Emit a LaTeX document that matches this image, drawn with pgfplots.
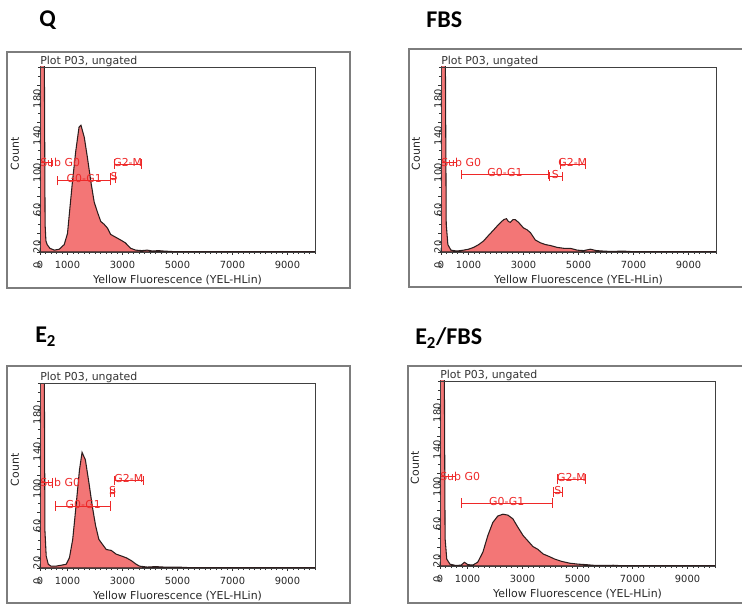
\documentclass[border=0pt]{standalone}
\usepackage{fontspec}
\setmainfont{DejaVu Sans}
\newfontfamily\titlefont{Carlito}
\usepackage{pgfplots}
\usepackage{pgfplotstable}
\pgfplotsset{compat=1.18}
\definecolor{histfill}{RGB}{243,118,118}
\definecolor{histline}{RGB}{45,30,30}
\definecolor{gatecol}{RGB}{238,40,40}
\definecolor{framegray}{RGB}{125,125,125}
\newcommand\lbl{\fontsize{8.2}{9}\selectfont}
\newcommand\tkl{\fontsize{7.4}{8}\selectfont}

\pgfplotstableread{
x y
0 260
150 260
185 30
215 12
260 8
360 4
520 2
700 3
880 8
1000 20
1060 39
1180 76
1300 109
1420 135
1490 137
1610 124
1730 101
1850 76
1970 54
2090 43
2210 33
2330 30
2450 26
2570 19
2750 16
2930 13
3100 10
3300 4
3480 2
3700 1.5
3900 2
4100 1
4300 1.5
4500 1
4800 0.5
5500 0.3
7000 0.3
10000 0.3
}\dataQ

\pgfplotstableread{
x y
0 260
150 260
190 30
250 8
360 2
580 1
820 2
1000 3
1190 5
1370 8
1550 12
1730 18
1920 24
2100 30
2280 35
2380 36
2450 33
2520 32
2620 35
2700 35
2820 32
3000 26
3130 24
3250 21
3430 13
3610 10
3800 8
3980 7
4220 5
4460 4
4700 4
4950 2
5190 1.5
5430 3
5650 1.5
5900 1
6200 0.5
6600 1
7000 0.3
10000 0.3
}\dataFBS

\pgfplotstableread{
x y
0 260
150 260
180 40
225 13
300 4
400 2
580 2
770 3
950 4
1070 11
1190 31
1310 67
1435 106
1530 125
1650 117
1780 92
1900 67
2020 46
2140 31
2260 26
2410 20
2590 19
2770 15
2960 13
3140 11
3320 8
3500 4
3620 2
3900 1
4200 1.5
4500 1
5000 1
5500 0.3
10000 0.3
}\dataE

\pgfplotstableread{
x y
0 260
150 260
185 30
245 7.5
360 2
580 0.5
770 1
890 4
1010 1.5
1190 1
1370 4
1560 15
1740 33
1920 47
2100 54
2290 56
2470 55
2650 51
2830 42
3020 33
3200 27
3380 21
3560 18
3750 13
3990 10
4170 7.5
4420 5
4720 3
5020 2
5300 1.5
5600 0.7
6000 0.5
6300 0.8
6600 0.3
10000 0.3
}\dataEF

% gate: x1, x2, y, label, labelx
\newcommand\gate[5]{%
  \draw[gatecol, line width=0.7pt] (axis cs:#1,#3) -- (axis cs:#2,#3);
  \draw[gatecol, line width=0.7pt] (axis cs:#1,#3-5) -- (axis cs:#1,#3+5);
  \draw[gatecol, line width=0.7pt] (axis cs:#2,#3-5) -- (axis cs:#2,#3+5);
  \node[gatecol, font=\lbl, inner sep=0pt] at (axis cs:#5,#3+2) {#4};
}
\newcommand\subgate[2]{%
  \draw[gatecol, line width=0.7pt] (axis cs:0,#2) -- (axis cs:#1,#2);
  \draw[gatecol, line width=0.7pt] (axis cs:#1,#2-5) -- (axis cs:#1,#2+5);
  \node[gatecol, font=\lbl, inner sep=0pt, anchor=west] at (axis cs:0,#2) {Sub G0};
}

\pgfplotsset{
  flow/.style={
    scale only axis, width=206.25pt, height=138.75pt, anchor=north west,
    xmin=0, xmax=10000, ymin=0, ymax=200,
    axis on top,
    axis line style={black!75, line width=0.7pt},
    xtick={0,1000,3000,5000,7000,9000},
    ytick={0,20,60,100,140,180},
    minor xtick={0,200,...,10000},
    minor ytick={0,10,...,200},
    tick align=outside, major tick length=2.2pt, minor tick length=1.6pt,
    tick style={black!80, line width=0.45pt},
    xtick pos=bottom, ytick pos=left,
    scaled x ticks=false,
    /pgf/number format/1000 sep={},
    /pgf/number format/assume math mode=true,
    xticklabel style={font=\tkl, text=black!85, anchor=center, yshift=-7.5pt},
    yticklabel style={font=\tkl, text=black!85, rotate=90, anchor=center, xshift=-10pt},
    xlabel={Yellow Fluorescence (YEL-HLin)},
    ylabel={Count},
    xlabel style={font=\lbl, text=black!85, at={(axis description cs:0.5,-0.151)}, anchor=center},
    ylabel style={font=\lbl, text=black!85, at={(axis description cs:-0.091,0.53)}, anchor=center},
    clip=true,
  },
  hist/.style={fill=histfill, draw=histline, line width=0.8pt},
}

\begin{document}
\begin{tikzpicture}
\useasboundingbox (0,0) rectangle (556.5pt,-453.75pt);

\begin{scope}[x=0.75pt, y=-0.75pt]
  \draw[framegray, line width=0.8pt] (7,52) rectangle (350,288);
  \draw[framegray, line width=0.8pt] (742,49) -- (409,49) -- (409,287) -- (742,287);
  \draw[framegray, line width=0.8pt] (7,366) rectangle (350,603);
  \draw[framegray, line width=0.8pt] (742,366) -- (408,366) -- (408,603) -- (742,603);
  \node[anchor=base west, inner sep=0pt, font=\titlefont\bfseries\fontsize{18}{20}\selectfont] at (39,27) {Q};
  \node[anchor=base west, inner sep=0pt, font=\titlefont\bfseries\fontsize{18}{20}\selectfont] at (426,28) {FBS};
  \node[anchor=base west, inner sep=0pt, font=\titlefont\bfseries\fontsize{18}{20}\selectfont] at (35,343) {E\textsubscript{2}};
  \node[anchor=base west, inner sep=0pt, font=\titlefont\bfseries\fontsize{18}{20}\selectfont] at (415,345) {E\textsubscript{2}/FBS};
\end{scope}

% Q
\begin{axis}[flow, at={(40*0.75pt,-67*0.75pt)}]
  \addplot[hist] table[x=x,y=y] {\dataQ} \closedcycle;
  \subgate{400}{97}
  \gate{650}{2570}{77}{G0-G1}{1610}
  \gate{2570}{2750}{80}{S}{2690}
  \gate{2700}{3680}{95}{G2-M}{3190}
\end{axis}
\node[anchor=base west, inner sep=0pt, font=\lbl, text=black!80] at (40*0.75pt,-65*0.75pt) {Plot P03, ungated};

% FBS
\begin{axis}[flow, at={(441*0.75pt,-67*0.75pt)}]
  \addplot[hist] table[x=x,y=y] {\dataFBS} \closedcycle;
  \subgate{545}{97}
  \gate{760}{3890}{84}{G0-G1}{2330}
  \gate{3930}{4400}{82}{S}{4160}
  \gate{4330}{5240}{95}{G2-M}{4790}
\end{axis}
\node[anchor=base west, inner sep=0pt, font=\lbl, text=black!80] at (441*0.75pt,-65*0.75pt) {Plot P03, ungated};

% E2
\begin{axis}[flow, at={(40*0.75pt,-383*0.75pt)}]
  \addplot[hist] table[x=x,y=y] {\dataE} \closedcycle;
  \subgate{450}{92}
  \gate{580}{2560}{67}{G0-G1}{1570}
  \gate{2560}{2700}{82}{S}{2640}
  \gate{2700}{3760}{95}{G2-M}{3230}
\end{axis}
\node[anchor=base west, inner sep=0pt, font=\lbl, text=black!80] at (40*0.75pt,-381*0.75pt) {Plot P03, ungated};

% E2/FBS
\begin{axis}[flow, at={(440*0.75pt,-381*0.75pt)}]
  \addplot[hist] table[x=x,y=y] {\dataEF} \closedcycle;
  \subgate{545}{97}
  \gate{770}{4090}{68}{G0-G1}{2430}
  \gate{4120}{4450}{80}{S}{4285}
  \gate{4270}{5290}{94}{G2-M}{4780}
\end{axis}
\node[anchor=base west, inner sep=0pt, font=\lbl, text=black!80] at (440*0.75pt,-379*0.75pt) {Plot P03, ungated};

\end{tikzpicture}
\end{document}
